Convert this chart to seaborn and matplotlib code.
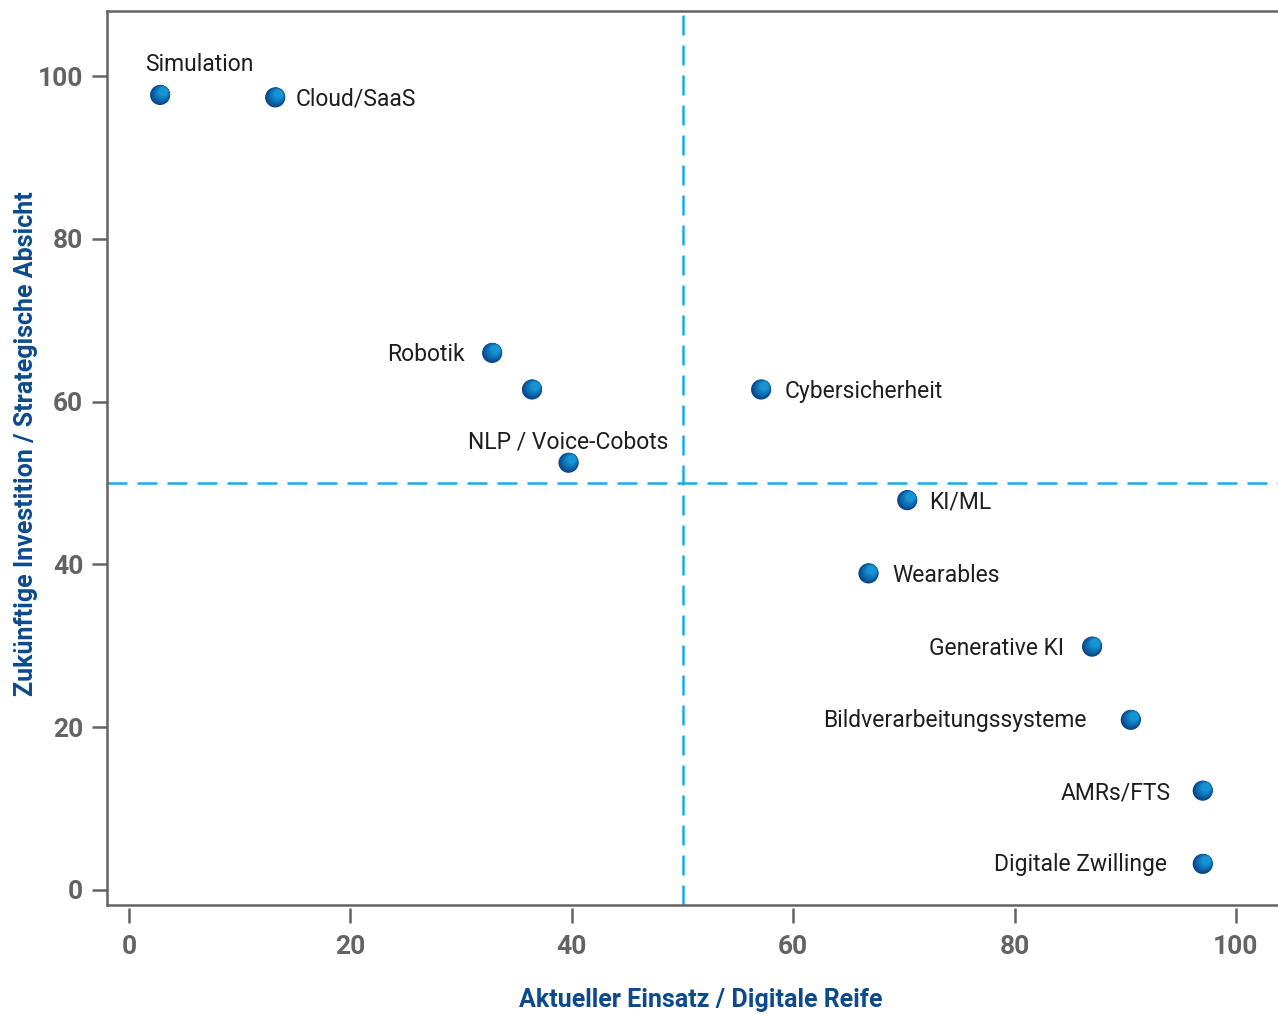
import matplotlib
matplotlib.use("Agg")
import matplotlib.pyplot as plt
import matplotlib.transforms as mtransforms
from matplotlib.lines import Line2D
import pandas as pd
import seaborn as sns

# Technologies positioned by current use (x) and future investment intent (y)
technologies = [
    "Simulation", "Cloud/SaaS", "Robotik", "", "NLP / Voice-Cobots",
    "Cybersicherheit", "KI/ML", "Wearables", "Generative KI",
    "Bildverarbeitungssysteme", "AMRs/FTS", "Digitale Zwillinge",
]
current_use = [2.8, 13.2, 32.8, 36.4, 39.7, 57.1, 70.3, 66.8, 87.0, 90.5, 97.0, 97.0]
future_intent = [97.7, 97.4, 66.0, 61.5, 52.5, 61.5, 47.9, 38.9, 29.9, 20.9, 12.2, 3.2]

x_ticks = [0, 20, 40, 60, 80, 100]
y_ticks = [0, 20, 40, 60, 80, 100]
x_split = 50
y_split = 50

x_title = "Aktueller Einsatz / Digitale Reife"
y_title = "Zukünftige Investition / Strategische Absicht"

df = pd.DataFrame({"tech": technologies, "x": current_use, "y": future_intent})

# Label placement relative to each point (offset in points, ha, va)
label_style = {
    "Simulation": ((-11, 14), "left", "bottom"),
    "Cloud/SaaS": ((15, -1.5), "left", "center"),
    "Robotik": ((-20, -1), "right", "center"),
    "NLP / Voice-Cobots": ((0, 15), "center", "center"),
    "Cybersicherheit": ((17, -1.5), "left", "center"),
    "KI/ML": ((16, -1.5), "left", "center"),
    "Wearables": ((17, -1.5), "left", "center"),
    "Generative KI": ((-20, -1.5), "right", "center"),
    "Bildverarbeitungssysteme": ((-32, -0.5), "right", "center"),
    "AMRs/FTS": ((-23, -1.5), "right", "center"),
    "Digitale Zwillinge": ((-26, -0.5), "right", "center"),
}

sns.set_theme(style="white")
plt.rcParams["font.family"] = ["Roboto", "DejaVu Sans"]

fig = plt.figure(figsize=(12.78, 10.14), dpi=100)
ax = fig.add_axes([0.0837, 0.1075, 0.9163, 0.8815])

axis_grey = "#636363"
accent = "#19ace6"
title_blue = "#0b4a8c"

# Bottom ticks sit slightly below the frame line
ax.spines["bottom"].set_position(("outward", 2.5))
ax.spines["bottom"].set_visible(False)
ax.add_line(Line2D([0, 1], [0, 0], transform=ax.transAxes, color=axis_grey,
                   lw=1.8, clip_on=False, zorder=2))

# Quadrant dividers
ax.axvline(x_split, color=accent, lw=1.8, ls=(0, (8, 4)), zorder=1)
ax.axhline(y_split, color=accent, lw=1.8, ls=(0, (8, 4)), zorder=1)

# Shaded discs: stacked from dark lower-left to bright upper-right
shades = ["#0a4486", "#0b4f92", "#0c5a9e", "#0d66aa", "#0e71b6", "#107dc1", "#1389cb", "#1694d3"]
sizes = [210, 184, 158, 132, 106, 81, 58, 38]
shifts = [0.0, 0.35, 0.7, 1.05, 1.4, 1.75, 2.1, 2.45]
for i, (color, s, d) in enumerate(zip(shades, sizes, shifts)):
    tr = mtransforms.offset_copy(ax.transData, fig=fig, x=d, y=d, units="points")
    sns.scatterplot(data=df, x="x", y="y", ax=ax, s=s, color=color,
                    edgecolor="none", linewidth=0, legend=False, zorder=3 + 0.1 * i,
                    transform=tr)

for _, row in df.iterrows():
    if not row["tech"]:
        continue
    (dx, dy), ha, va = label_style[row["tech"]]
    ax.annotate(row["tech"], (row["x"], row["y"]), xytext=(dx, dy),
                textcoords="offset points", ha=ha, va=va,
                fontsize=16.5, color="#1e1e1e", zorder=5)

ax.set_xlim(-2.0, 103.8)
ax.set_ylim(-1.85, 108)
ax.set_xticks(x_ticks)
ax.set_yticks(y_ticks)
ax.set_xticklabels([str(t) for t in x_ticks], fontsize=19, fontweight="bold", color=axis_grey)
ax.set_yticklabels([str(t) for t in y_ticks], fontsize=19, fontweight="bold", color=axis_grey)

ax.set_xlabel(x_title, fontsize=18, fontweight="bold", color=title_blue)
ax.set_ylabel(y_title, fontsize=18, fontweight="bold", color=title_blue)
ax.xaxis.set_label_coords(0.507, -0.093)
ax.yaxis.set_label_coords(-0.059, 0.516)

for side in ["top", "left"]:
    ax.spines[side].set_color(axis_grey)
    ax.spines[side].set_linewidth(1.8)
ax.spines["right"].set_visible(False)

ax.tick_params(axis="both", which="major", direction="out", length=11,
               width=1.8, color=axis_grey, left=True, bottom=True)
ax.tick_params(axis="x", pad=8)
ax.tick_params(axis="y", pad=6)

fig.savefig("out.png", dpi=100)
